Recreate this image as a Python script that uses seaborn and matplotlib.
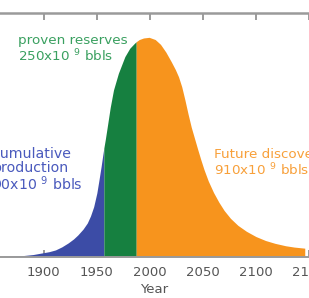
import numpy as np
import pandas as pd
import matplotlib
matplotlib.use("Agg")
import matplotlib.pyplot as plt
import seaborn as sns

years = [1858, 1870, 1880, 1890, 1898, 1905, 1911, 1917, 1923, 1928, 1932, 1937,
         1941, 1944, 1947, 1950, 1952, 1954, 1955.5, 1956.6, 1958, 1959.6, 1962.6,
         1965.7, 1970.3, 1976.4, 1981, 1985.5, 1987.1, 1990, 1994, 1999.3,
         2005, 2010, 2015, 2020, 2024, 2027, 2030, 2033, 2036, 2039,
         2042, 2045, 2048, 2051, 2055, 2060, 2065, 2070, 2076, 2083,
         2091, 2100, 2109, 2118, 2128, 2136, 2146]
production = [0.0, 0.2, 0.4, 0.9, 1.6, 2.2, 3.0, 4.4, 6.2, 8.0, 9.8, 12.5,
              15.3, 18.5, 22.7, 29.0, 34.9, 41.0, 46.0, 49.5, 53.5, 58.5, 68.0,
              76.0, 83.6, 91.2, 95.0, 97.3, 98.0, 99.0, 99.7, 100.0,
              99.0, 96.8, 93.3, 89.0, 85.3, 82.0, 77.5, 71.5, 65.0, 59.0,
              54.0, 49.0, 44.2, 39.7, 34.5, 29.2, 24.8, 21.0, 17.4, 14.2,
              11.5, 9.1, 7.3, 6.0, 4.9, 4.3, 3.8]
tick_years = [1900, 1950, 2000, 2050, 2100, 2150]
produced_end = 1956.6
proven_end = 1987.1

df = pd.DataFrame({"Year": years, "Production": production})

blue = "#3c4ca6"
green = "#168040"
orange = "#f7941d"

sns.set_theme(style="white")
plt.rcParams["font.family"] = ["DejaVu Sans"]
plt.rcParams["mathtext.default"] = "regular"

fig = plt.figure(figsize=(3.09, 2.98), dpi=100)
ax = fig.add_axes([0.0, 41.5 / 298, 1.0, 243.5 / 298])

x = df["Year"].to_numpy()
y = df["Production"].to_numpy()
ax.fill_between(x, 0, y, where=x <= produced_end, color=blue, lw=0)
ax.fill_between(x, 0, y, where=(x >= produced_end) & (x <= proven_end), color=green, lw=0)
ax.fill_between(x, 0, y, where=x >= proven_end, color=orange, lw=0)

ax.set_xlim(1858.7, 2142.2)
ax.set_ylim(0, 111.1)
ax.set_xticks(tick_years)
ax.set_xticklabels([str(t) for t in tick_years], fontsize=9.5, color="#555555")
ax.set_yticks([])
ax.set_xlabel("Year", fontsize=9.5, color="#555555", labelpad=3.5)
ax.set_axisbelow(True)

for s in ["left", "right"]:
    ax.spines[s].set_visible(False)
ax.spines["top"].set_color("#9a9a9a")
ax.spines["top"].set_linewidth(1.8)
ax.spines["bottom"].set_color("#9a9a9a")
ax.spines["bottom"].set_linewidth(1.4)
ax.tick_params(axis="x", which="both", bottom=True, top=True, direction="in",
               length=5, width=1.2, color="#8a8a8a", pad=6.5)

fs = 9.7
ax.text(1875.2, 94.6, "proven reserves\n250x10 $^{9}$ bbls", color="#3aa060",
        fontsize=fs, va="center", ha="left", linespacing=1.1)
ax.text(1851.4, 39.5, "cumulative\nproduction\n90x10 $^{9}$ bbls", color="#4a5abd",
        fontsize=10.2, va="center", ha="left", linespacing=1.0)
ax.text(2060.5, 42.4, "Future discoveries\n910x10 $^{9}$ bbls", color="#f8a03a",
        fontsize=fs, va="center", ha="left", linespacing=1.05)

fig.savefig("out.png", dpi=100)
